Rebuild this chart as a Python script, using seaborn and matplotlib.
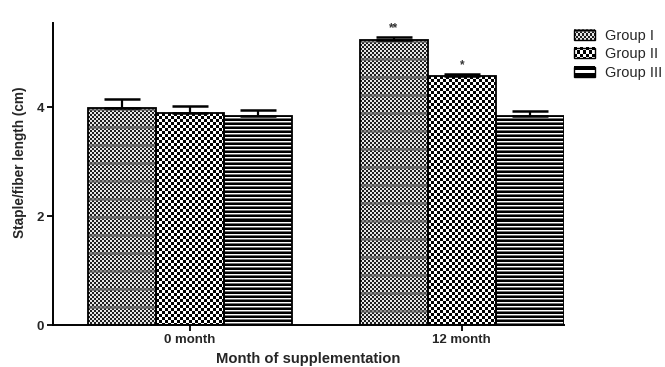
import numpy as np
import pandas as pd
import matplotlib
matplotlib.use("Agg")
import matplotlib.pyplot as plt
import seaborn as sns
from matplotlib.patches import Rectangle
from matplotlib.legend_handler import HandlerBase
from matplotlib.image import BboxImage
from matplotlib.transforms import Bbox, TransformedBbox

months = ["0 month", "12 month"]
groups = ["Group I", "Group II", "Group III"]
means_0 = [3.98, 3.89, 3.85]
means_12 = [5.23, 4.57, 3.85]
err_0 = [0.17, 0.13, 0.11]
err_12 = [0.07, 0.05, 0.09]
stars_12 = ["**", "*", ""]

df = pd.DataFrame({
    "month": [m for m in months for g in groups],
    "group": groups * 2,
    "length": means_0 + means_12,
    "err": err_0 + err_12,
})

sns.set_style("ticks")
plt.rcParams["font.family"] = ["Liberation Sans", "DejaVu Sans"]

fig = plt.figure(figsize=(6.65, 3.67), dpi=100)
ax = fig.add_axes([53 / 665, 42 / 367, 511 / 665, 302 / 367])

sns.barplot(data=df, x="month", y="length", hue="group", hue_order=groups,
            width=0.75, errorbar=None, palette=["white"] * 3,
            edgecolor="black", linewidth=1.3, legend=False, ax=ax)

xlim = (-0.504, 1.376)
ylim = (0, 5.55)
ax.set_xlim(xlim)
ax.set_ylim(ylim)


# fill textures (Prism-like)
def tex_group1(h, w):
    yy, xx = np.indices((h, w))
    v = np.where((yy // 2 + xx // 2) % 2 == 0, 0.12, 0.9)
    v = np.where(yy % 18 < 3, 0.25 + 0.35 * v, v)
    return v


def tex_group2(h, w):
    yy, xx = np.indices((h, w))
    return np.where((yy // 3 + xx // 3) % 2 == 0, 0.0, 1.0)


def tex_group3(h, w):
    yy, xx = np.indices((h, w))
    row = np.array([0.0, 0.0, 1.0, 0.45])[yy % 4]
    return row


def leg_group3(h, w):
    v = np.zeros((h, w))
    v[h // 2 - 1:h // 2 + 1, :] = 1.0
    return v


textures = [tex_group1, tex_group2, tex_group3]
legend_textures = [tex_group1, tex_group2, leg_group3]
bar_containers = list(ax.containers)

for i, cont in enumerate(bar_containers):
    for j, patch in enumerate(cont.patches):
        x0 = patch.get_x()
        x1 = x0 + patch.get_width()
        y1 = patch.get_height()
        p0 = ax.transData.transform((x0, 0))
        p1 = ax.transData.transform((x1, y1))
        w_px = max(int(round(p1[0] - p0[0])), 1)
        h_px = max(int(round(p1[1] - p0[1])), 1)
        img = textures[i](h_px, w_px)
        im = ax.imshow(img, cmap="gray", vmin=0, vmax=1, interpolation="nearest",
                       extent=(x0, x1, 0, y1), aspect="auto", zorder=2)
        im.set_clip_path(patch)
        patch.set_facecolor("none")
        patch.set_zorder(3)
        # upper error bar
        row = df[(df.month == months[j]) & (df.group == groups[i])].iloc[0]
        xc = x0 + patch.get_width() / 2
        ax.errorbar([xc], [row.length], yerr=[[0], [row.err]], fmt="none",
                    ecolor="black", elinewidth=1.6, capsize=13, capthick=1.8,
                    zorder=4)
        if j == 1 and stars_12[i]:
            ax.text(xc, row.length + row.err + 0.04, stars_12[i], ha="center",
                    va="bottom", fontsize=8.5, fontweight="bold", color="#333333")

ax.set_xlim(xlim)
ax.set_ylim(ylim)
ax.set_yticks([0, 2, 4])
ax.set_yticklabels(["0", "2", "4"])

sns.despine(ax=ax)
for s in ["left", "bottom"]:
    ax.spines[s].set_linewidth(1.4)
    ax.spines[s].set_color("black")
ax.tick_params(axis="both", length=4.5, width=1.3, color="black", pad=2)
for lab in ax.get_xticklabels() + ax.get_yticklabels():
    lab.set_fontsize(9.5)
    lab.set_fontweight("bold")
ax.set_xlabel("Month of supplementation", fontsize=10.6, fontweight="bold", labelpad=4)
ax.set_ylabel("Staple/fiber length (cm)", fontsize=9.8, fontweight="bold")
ax.yaxis.set_label_coords(-(53 - 27) / 511, (367 - 42 - 162) / 302)


# legend with textured swatches
class TextureHandler(HandlerBase):
    def __init__(self, tex):
        super().__init__()
        self.tex = tex

    def create_artists(self, legend, orig_handle, xdescent, ydescent,
                       width, height, fontsize, trans):
        bb = TransformedBbox(Bbox.from_bounds(-xdescent, -ydescent, width, height), trans)
        image = BboxImage(bb, cmap="gray", interpolation="nearest")
        image.set_clim(0, 1)
        image.set_data(self.tex(10, 21))
        edge = Rectangle((-xdescent, -ydescent), width, height, facecolor="none",
                         edgecolor="black", lw=1.0, transform=trans)
        return [image, edge]


handles = [Rectangle((0, 0), 1, 1) for g in groups]
fig.legend(handles, groups,
           handler_map={h: TextureHandler(t) for h, t in zip(handles, legend_textures)},
           loc="upper left", bbox_to_anchor=(574 / 665, 1 - 29 / 367),
           frameon=False, fontsize=10.5, handlelength=1.44, handleheight=0.68,
           handletextpad=0.68, labelspacing=0.3, borderpad=0, borderaxespad=0)

fig.savefig("out.png", dpi=100)
